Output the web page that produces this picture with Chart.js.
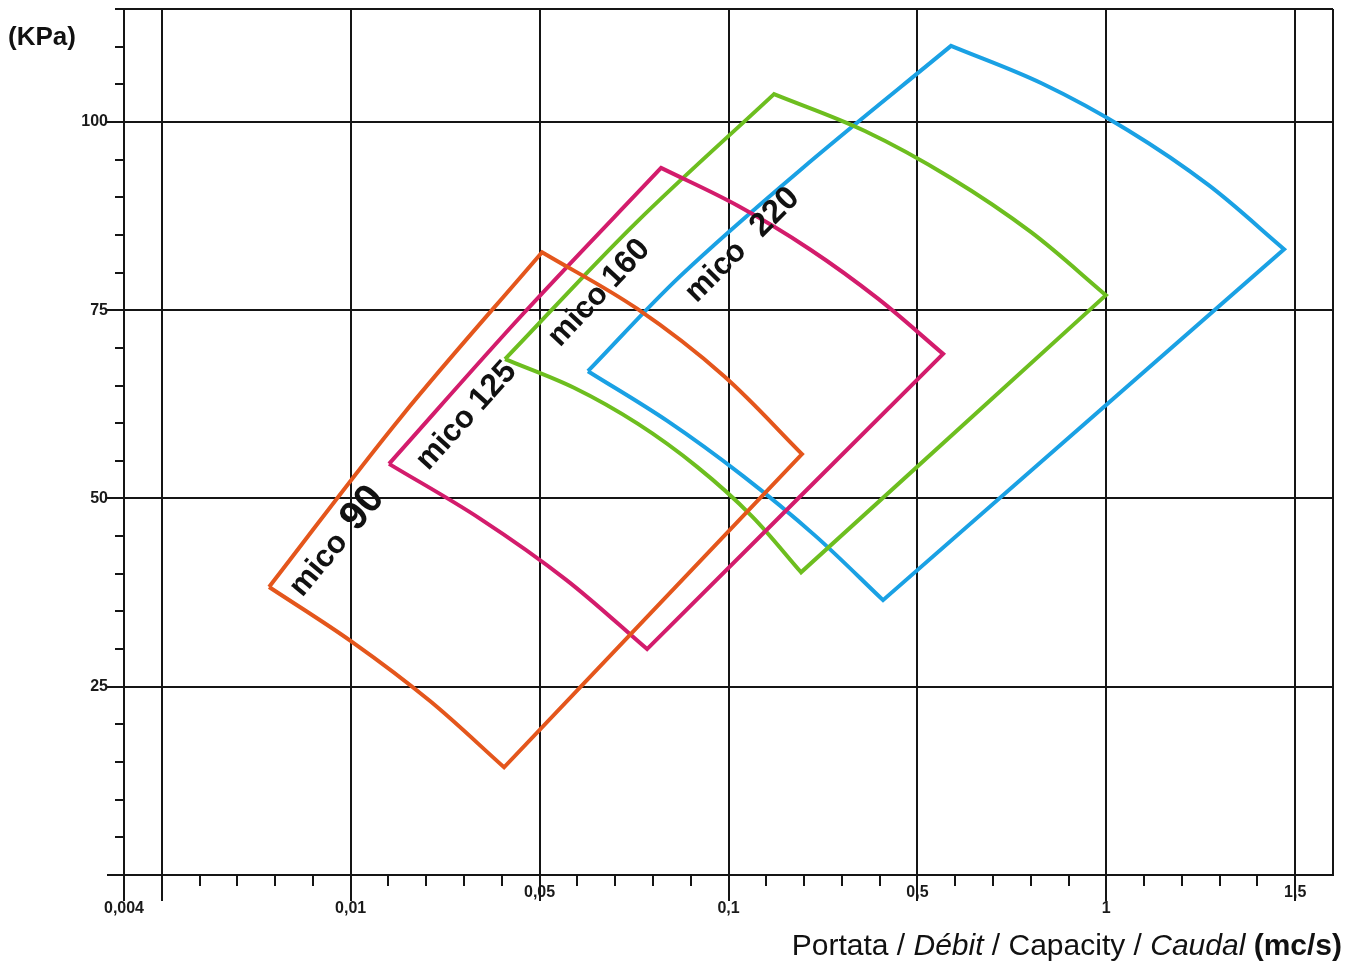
<!DOCTYPE html>
<html><head><meta charset="utf-8">
<script src="https://cdn.jsdelivr.net/npm/chart.js@4/dist/chart.umd.min.js"></script>
<style>html,body{margin:0;padding:0;background:#fff}#wrap{width:1358px;height:963px;position:relative}</style>
</head><body><div id="wrap"><canvas id="c"></canvas></div>
<script>
// ---- axis ticks ----
const xTickLabels = ['0,004', '0,01', '0,05', '0,1', '0,5', '1', '1,5'];
const xLabelPositions = [-0.2, 1, 2, 3, 4, 5, 6];
const xLabelLowered = [true, true, false, true, false, true, false];
const xGridPositions = [0, 1, 2, 3, 4, 5, 6, 6.2];
const yTickLabels = ['25', '50', '75', '100'];
const yLabelValues = [25, 50, 75, 100];
const yGridValues = [25, 50, 75, 100, 115];

// ---- series (x in axis-division units, y in kPa) ----
const seriesNames = ['mico 90', 'mico 125', 'mico 160', 'mico 220'];
const mico90X = [0.568, 1.269, 2.013, 2.516, 2.974, 3.389, 1.812, 1.420, 1.005];
const mico90Y = [38.25, 60.9, 82.7, 75.2, 66.3, 55.9, 14.3, 23.1, 31.0];
const mico90Corner = [1, 0, 1, 0, 0, 1, 1, 0, 0];
const mico125X = [1.203, 1.912, 2.643, 3.047, 3.430, 3.793, 4.136, 2.569, 2.141, 1.686];
const mico125Y = [54.6, 74.5, 93.9, 88.9, 83.1, 76.5, 69.2, 30.0, 39.2, 47.3];
const mico125Corner = [1, 0, 1, 0, 0, 0, 1, 1, 0, 0];
const mico160X = [1.817, 2.510, 3.241, 3.722, 4.175, 4.600, 4.998, 3.384, 3.122, 2.834, 2.521, 2.182];
const mico160Y = [68.5, 86.6, 103.7, 98.8, 92.6, 85.4, 77.0, 40.2, 47.7, 54.2, 59.9, 64.7];
const mico160Corner = [1, 0, 1, 0, 0, 0, 1, 1, 0, 0, 0, 0];
const mico220X = [2.256, 2.743, 3.379, 4.178, 4.660, 5.114, 5.542, 5.941, 3.818, 3.457, 3.076, 2.676];
const mico220Y = [66.9, 79.5, 93.6, 110.1, 105.1, 98.9, 91.6, 83.1, 36.5, 45.1, 53.0, 60.3];
const mico220Corner = [1, 0, 0, 1, 0, 0, 0, 1, 1, 0, 0, 0];

const seriesColors = ['#E4561C', '#D31C6C', '#6DBE1F', '#1AA1E4'];

// label placement (anchor in data units, angle in degrees)
const labelSpecs = [
  {x: 0.743, y: 36.8, angle: -50, parts: [['mico', 31, 0], ['90', 40, 13]]},
  {x: 1.410, y: 53.6, angle: -48, parts: [['mico', 31, 0], ['125', 32, 8]]},
  {x: 2.108, y: 70.0, angle: -47, parts: [['mico', 31, 0], ['160', 32, 8]]},
  {x: 2.831, y: 75.9, angle: -45, parts: [['mico', 31, 0], ['220', 33, 20]]}
];

function buildPath(xs, ys, corner) {
  const pts = [];
  for (let i = 0; i < xs.length; i++) {
    pts.push({x: xs[i], y: ys[i]});
    if (corner[i]) pts.push({x: xs[i], y: ys[i]});
  }
  pts.push({x: xs[0], y: ys[0]});
  pts.push({x: xs[0], y: ys[0]});
  return pts;
}
const paths = [
  buildPath(mico90X, mico90Y, mico90Corner),
  buildPath(mico125X, mico125Y, mico125Corner),
  buildPath(mico160X, mico160Y, mico160Corner),
  buildPath(mico220X, mico220Y, mico220Corner)
];

const SANS = "'Liberation Sans',Arial,Helvetica,sans-serif";

const decor = {
  id: 'decor',
  afterDraw(chart) {
    const {ctx, chartArea: a, scales: {x, y}} = chart;
    ctx.save();
    ctx.strokeStyle = '#151515';
    ctx.lineWidth = 2;
    for (let i = 0; i <= 31; i++) {
      const v = -0.2 + i * 0.2;
      const px = Math.round(x.getPixelForValue(v));
      const major = i === 0 || Math.abs(v - Math.round(v)) < 1e-6;
      ctx.beginPath();
      ctx.moveTo(px, a.bottom);
      ctx.lineTo(px, a.bottom + (major ? 26 : 11));
      ctx.stroke();
    }
    for (let v = 0; v <= 115; v += 5) {
      const py = Math.round(y.getPixelForValue(v));
      const major = v % 25 === 0;
      ctx.beginPath();
      ctx.moveTo(a.left, py);
      ctx.lineTo(a.left - (major ? 17 : 9), py);
      ctx.stroke();
    }
    ctx.fillStyle = '#111';
    ctx.textBaseline = 'alphabetic';
    ctx.textAlign = 'left';
    labelSpecs.forEach(s => {
      const px = x.getPixelForValue(s.x), py = y.getPixelForValue(s.y);
      ctx.save();
      ctx.translate(px, py);
      ctx.rotate(s.angle * Math.PI / 180);
      let cx = 0;
      s.parts.forEach(([t, size, gap]) => {
        cx += gap;
        ctx.font = 'bold ' + size + 'px ' + SANS;
        ctx.fillText(t, cx, 0);
        cx += ctx.measureText(t).width;
      });
      ctx.restore();
    });
    ctx.font = 'bold 26px ' + SANS;
    ctx.fillText('(KPa)', 8, 45);
    const parts = [['Portata / ', ''], ['Débit', 'italic '], [' / Capacity / ', ''], ['Caudal', 'italic '], [' (mc/s)', 'bold ']];
    let total = 0;
    parts.forEach(([t, st]) => { ctx.font = st + '30px ' + SANS; total += ctx.measureText(t).width; });
    let tx = 1342 - total;
    parts.forEach(([t, st]) => { ctx.font = st + '30px ' + SANS; ctx.fillText(t, tx, 955); tx += ctx.measureText(t).width; });
    ctx.restore();
  }
};

new Chart(document.getElementById('c'), {
  type: 'scatter',
  data: {
    datasets: paths.map((p, i) => ({
      label: seriesNames[i],
      data: p,
      showLine: true,
      borderColor: seriesColors[i],
      backgroundColor: seriesColors[i],
      borderWidth: 4,
      pointRadius: 0,
      pointHoverRadius: 0,
      tension: 0.35,
      fill: false,
      borderJoinStyle: 'miter'
    }))
  },
  options: {
    responsive: true,
    maintainAspectRatio: false,
    animation: false,
    events: [],
    layout: {padding: {left: 0, right: 25, top: 9, bottom: 0}},
    plugins: {legend: {display: false}, tooltip: {enabled: false}, title: {display: false}},
    scales: {
      x: {
        type: 'linear', min: -0.2, max: 6.2,
        afterBuildTicks: s => { s.ticks = [-0.2, 0, 1, 2, 3, 4, 5, 6, 6.2].map(v => ({value: v})); },
        afterFit: s => { s.height = 88; s.paddingLeft = 0; s.paddingRight = 0; s.paddingTop = 0; s.paddingBottom = 0; },
        grid: {
          color: c => xGridPositions.some(v => Math.abs(v - c.tick.value) < 1e-6) ? '#151515' : 'rgba(0,0,0,0)',
          lineWidth: 2, drawTicks: false
        },
        border: {display: true, color: '#151515', width: 2},
        ticks: {
          autoSkip: false, maxRotation: 0, padding: 10, color: '#1a1a1a',
          font: {family: SANS, size: 16, weight: 'bold', lineHeight: 1.0},
          callback: function(v) {
            const i = xLabelPositions.findIndex(p => Math.abs(p - v) < 1e-6);
            if (i < 0) return '';
            return xLabelLowered[i] ? ['', xTickLabels[i]] : xTickLabels[i];
          }
        }
      },
      y: {
        type: 'linear', min: 0, max: 115,
        afterBuildTicks: s => { s.ticks = yGridValues.map(v => ({value: v})); },
        afterFit: s => { s.width = 124; s.paddingTop = 0; s.paddingBottom = 0; s.paddingLeft = 0; s.paddingRight = 0; },
        grid: {color: '#151515', lineWidth: 2, drawTicks: false},
        border: {display: true, color: '#151515', width: 2},
        ticks: {
          padding: 16, color: '#1a1a1a',
          font: {family: SANS, size: 16, weight: 'bold'},
          callback: function(v) {
            const i = yLabelValues.indexOf(v);
            return i < 0 ? '' : yTickLabels[i];
          }
        }
      }
    }
  },
  plugins: [decor]
});
</script></body></html>
